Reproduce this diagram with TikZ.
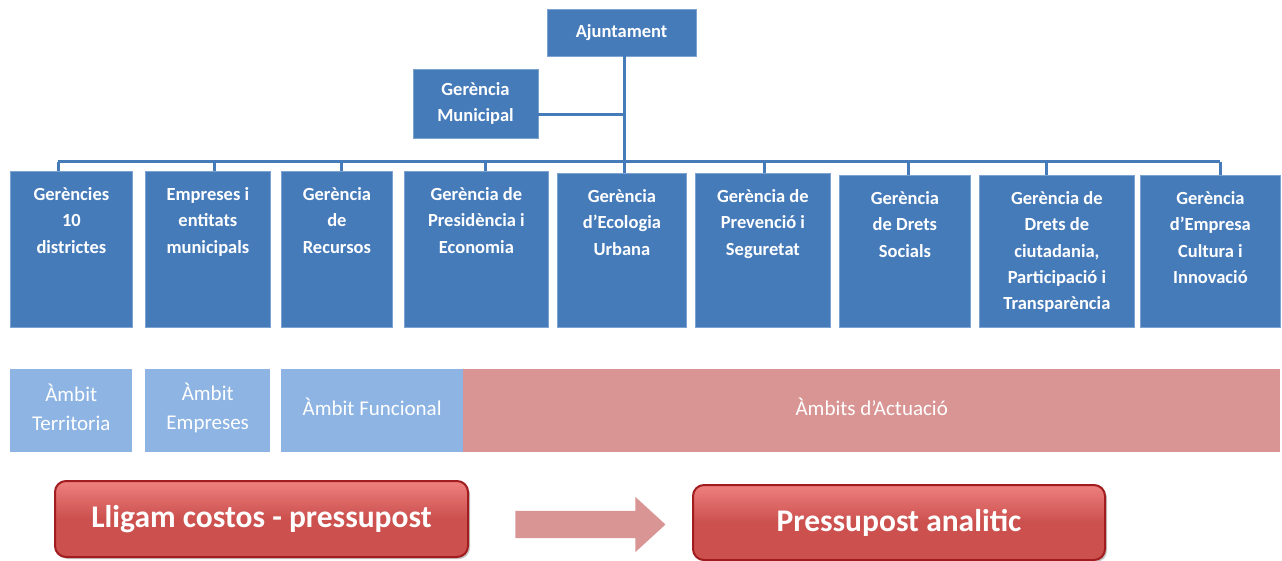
\documentclass[tikz,border=0pt]{standalone}
\usepackage{fontspec}
\setmainfont{Carlito}
\usetikzlibrary{positioning,shapes.arrows,shadows}
\definecolor{gblue}{RGB}{70,123,186}
\definecolor{gline}{RGB}{125,163,210}
\definecolor{lblue}{RGB}{141,180,226}
\definecolor{pinkr}{RGB}{217,149,148}
\definecolor{redm}{RGB}{203,80,78}
\definecolor{redl}{RGB}{238,128,126}
\definecolor{redd}{RGB}{160,28,30}

\begin{document}
\begin{tikzpicture}[x=1pt,y=-1pt,
    gbox/.style={rectangle,fill=gblue,draw=gline,line width=0.8pt,anchor=north west,inner sep=0pt},
    gtxt/.style={text=white,font=\fontsize{18.5}{26.3}\selectfont\bfseries,align=center,inner sep=0pt},
    conn/.style={draw=gblue,line width=3pt},
    amb/.style={rectangle,anchor=north west,minimum height=83pt,inner sep=0pt},
    ambtxt/.style={text=white,align=center,inner sep=0pt,font=\fontsize{21}{29}\selectfont},
    rbox/.style={rectangle,rounded corners=11pt,draw=redd,line width=2pt,top color=redl,bottom color=redm,middle color=redm,
        drop shadow={opacity=0.45,shadow xshift=2pt,shadow yshift=-2pt},text=white,font=\fontsize{31.5}{36}\selectfont\bfseries}]
    \useasboundingbox (0,0) rectangle (1282,561);

    \node[gbox,gtxt,anchor=center,minimum width=149pt,minimum height=47pt] (ajunt) at (621.5,32.5) {Ajuntament};
    \node[gbox,gtxt,anchor=center,minimum width=125pt,minimum height=69pt] (mun) at (475.5,103.5) {Gerència\\Municipal};

    \node[gbox,minimum width=122pt,minimum height=156pt] (b1) at (10,171) {};
    \node[gbox,minimum width=125pt,minimum height=156pt] (b2) at (145,171) {};
    \node[gbox,minimum width=111pt,minimum height=156pt] (b3) at (281,171) {};
    \node[gbox,minimum width=144pt,minimum height=156pt] (b4) at (404,171) {};
    \node[gbox,minimum width=129pt,minimum height=154pt] (b5) at (557,173) {};
    \node[gbox,minimum width=135pt,minimum height=154pt] (b6) at (695,173) {};
    \node[gbox,minimum width=131pt,minimum height=152pt] (b7) at (839,175) {};
    \node[gbox,minimum width=155pt,minimum height=152pt] (b8) at (979,175) {};
    \node[gbox,minimum width=140pt,minimum height=152pt] (b9) at (1140,175) {};

    \node[gtxt,below=16.5pt of b1.north] (t1) {Gerències\\10\\districtes};
    \node[gtxt,below=16.5pt of b2.north] (t2) {Empreses i\\entitats\\municipals};
    \node[gtxt,below=16.5pt of b3.north] (t3) {Gerència\\de\\Recursos};
    \node[gtxt,below=16.5pt of b4.north] (t4) {Gerència de\\Presidència i\\Economia};
    \node[gtxt,below=16.5pt of b5.north] (t5) {Gerència\\d’Ecologia\\Urbana};
    \node[gtxt,below=16.5pt of b6.north] (t6) {Gerència de\\Prevenció i\\Seguretat};
    \node[gtxt,below=16.5pt of b7.north] (t7) {Gerència\\de Drets\\Socials};
    \node[gtxt,below=16.5pt of b8.north] (t8) {Gerència de\\Drets de\\ciutadania,\\Participació i\\Transparència};
    \node[gtxt,below=16.5pt of b9.north] (t9) {Gerència\\d’Empresa\\Cultura i\\Innovació};

    \coordinate (bus) at (0,162);
    \coordinate (trunk) at ([xshift=2.5pt]b5.north);
    \draw[conn] (trunk) -- (trunk |- ajunt.south);
    \draw[conn] ([yshift=-11.5pt]mun.east) -- ([yshift=-11.5pt]mun.east -| trunk);
    \draw[conn] ([xshift=-13pt]b1.north |- bus) -- ([xshift=10pt]b9.north |- bus);
    \foreach \b/\dx in {b1/-13,b2/6.5,b3/4.5,b4/9,b6/1.5,b7/3.5,b8/-10.5,b9/10}
        \draw[conn] ([xshift=\dx pt]\b.north) -- ([xshift=\dx pt]\b.north |- bus);

    \node[amb,fill=lblue,minimum width=122pt] (a1) at (10,369) {};
    \node[amb,fill=lblue,minimum width=125pt] (a2) at (145,369) {};
    \node[amb,fill=lblue,minimum width=182pt] (a3) at (281,369) {};
    \node[amb,fill=pinkr,minimum width=817pt] (a4) at (463,369) {};
    \node[ambtxt] (l1) at ([yshift=3pt]a1.center) {Àmbit\\Territoria};
    \node[ambtxt] (l2) at ([yshift=3pt]a2.center) {Àmbit\\Empreses};
    \node[ambtxt] (l3) at ([yshift=4pt]a3.center) {Àmbit Funcional};
    \node[ambtxt] (l4) at ([yshift=4pt]a4.center) {Àmbits d’Actuació};

    \node[rbox,minimum width=413pt,minimum height=76pt] (cost) at (261.5,519) {Lligam costos - pressupost};
    \node[rbox,minimum width=412pt,minimum height=75pt] (anal) at (899,522.5) {Pressupost analitic};
    \node[single arrow,fill=pinkr,inner sep=13.5pt,minimum height=150pt,single arrow head extend=14pt,
        single arrow tip angle=85] (arr) at (583,524.5) {};
\end{tikzpicture}
\end{document}
